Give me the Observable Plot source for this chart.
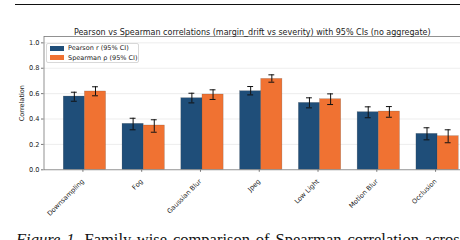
<!DOCTYPE html>
<html><head><meta charset="utf-8">
<script src="https://cdn.jsdelivr.net/npm/d3@7"></script>
<script src="https://cdn.jsdelivr.net/npm/@observablehq/plot@0.6"></script>
<style>
html,body{margin:0;padding:0;background:#fff;width:460px;height:240px;overflow:hidden;}
#wrap{position:relative;width:460px;height:240px;overflow:hidden;}
#rule{position:absolute;left:15px;top:4px;width:460px;height:1.3px;background:#111;}
#chart{position:absolute;left:0;top:0;}
#legend{position:absolute;left:46px;top:42.7px;width:93px;height:20px;box-sizing:border-box;border:1px solid #d8d8d8;border-radius:2px;background:rgba(255,255,255,0.85);font-family:"DejaVu Sans",sans-serif;font-size:6.5px;color:#222;}
#legend .row{position:absolute;left:2.5px;height:7px;line-height:7px;white-space:nowrap;}
#legend .sw{display:inline-block;width:14.5px;height:5px;vertical-align:middle;margin-right:4px;}
#caption{position:absolute;left:16px;top:232px;font-family:"Liberation Serif","Times New Roman",serif;font-size:16.5px;line-height:16px;white-space:nowrap;color:#111;word-spacing:1.8px;}
</style></head><body>
<div id="wrap">
  <div id="rule"></div>
  <div id="chart"></div>
  <div id="legend"></div>
  <div id="caption"><i>Figure 1.</i> Family-wise comparison of Spearman correlation across</div>
</div>
<script>
const categories = ["Downsampling","Fog","Gaussian Blur","Jpeg","Low Light","Motion Blur","Occlusion"];
const seriesNames = ["Pearson r (95% CI)","Spearman \u03c1 (95% CI)"];
const seriesColors = ["#1f4e79","#f07232"];
const pearson   = [0.577,0.362,0.564,0.619,0.527,0.454,0.283];
const pearsonLo = [0.540,0.315,0.527,0.590,0.488,0.410,0.236];
const pearsonHi = [0.611,0.406,0.603,0.656,0.567,0.496,0.331];
const spearman   = [0.617,0.349,0.593,0.716,0.556,0.459,0.265];
const spearmanLo = [0.583,0.296,0.554,0.690,0.514,0.414,0.213];
const spearmanHi = [0.654,0.394,0.630,0.748,0.598,0.498,0.315];
const yTicks = [0,0.2,0.4,0.6,0.8,1.0];
const title = "Pearson vs Spearman correlations (margin_drift vs severity) with 95% CIs (no aggregate)";
const barWidth = 0.36;
const capHalf = 0.05;

const rows = [];
categories.forEach((c,i)=>{
  rows.push({cat:c,i,s:0,v:pearson[i],lo:pearsonLo[i],hi:pearsonHi[i]});
  rows.push({cat:c,i,s:1,v:spearman[i],lo:spearmanLo[i],hi:spearmanHi[i]});
});
const x1 = d => d.i + (d.s===0 ? -barWidth : 0);
const x2 = d => x1(d) + barWidth;
const cx = d => x1(d) + barWidth/2;

const chart = Plot.plot({
  width: 460, height: 240,
  marginTop: 36, marginBottom: 70.7, marginLeft: 43.5, marginRight: 0,
  style: {fontFamily: "DejaVu Sans, sans-serif", fontSize: "6.6px", color: "#222", background: "transparent"},
  x: {type: "linear", domain: [-0.696, 6.696], range: [43.5, 478]},
  y: {domain: [0, 1.05]},
  marks: [
    Plot.ruleY(yTicks.filter(t=>t>0), {stroke: "#e8e8e8", strokeWidth: 0.8}),
    Plot.rectY(rows, {x1, x2, y1: 0, y2: "v", fill: d => seriesColors[d.s], stroke: "#333", strokeOpacity: 0.35, strokeWidth: 0.5}),
    Plot.ruleX(rows, {x: cx, y1: "lo", y2: "hi", stroke: "#111", strokeWidth: 1}),
    Plot.ruleY(rows, {y: "lo", x1: d => cx(d)-capHalf, x2: d => cx(d)+capHalf, stroke: "#111", strokeWidth: 1}),
    Plot.ruleY(rows, {y: "hi", x1: d => cx(d)-capHalf, x2: d => cx(d)+capHalf, stroke: "#111", strokeWidth: 1}),
    Plot.frame({stroke: "#777", strokeWidth: 0.8}),
    Plot.axisY({ticks: yTicks, tickFormat: d3.format(".1f"), tickSize: 2.5, tickPadding: 2, stroke: "#777",
      label: "Correlation", labelAnchor: "center", labelArrow: "none", labelOffset: 25}),
    Plot.axisX({ticks: d3.range(categories.length), tickFormat: i => categories[i], tickSize: 2.5, tickPadding: 8,
      dx: -2, tickRotate: -45, stroke: "#777", label: null}),
    Plot.text([title], {frameAnchor: "top", lineAnchor: "bottom", dy: -2, fontSize: 8, fill: "#222"})
  ]
});
document.getElementById("chart").appendChild(chart);

const legend = document.getElementById("legend");
seriesNames.forEach((n,k)=>{
  const r = document.createElement("div");
  r.className = "row";
  r.style.top = (k===0 ? 1.5 : 11) + "px";
  r.innerHTML = `<span class="sw" style="background:${seriesColors[k]}"></span>${n}`;
  legend.appendChild(r);
});
</script>
</body></html>
